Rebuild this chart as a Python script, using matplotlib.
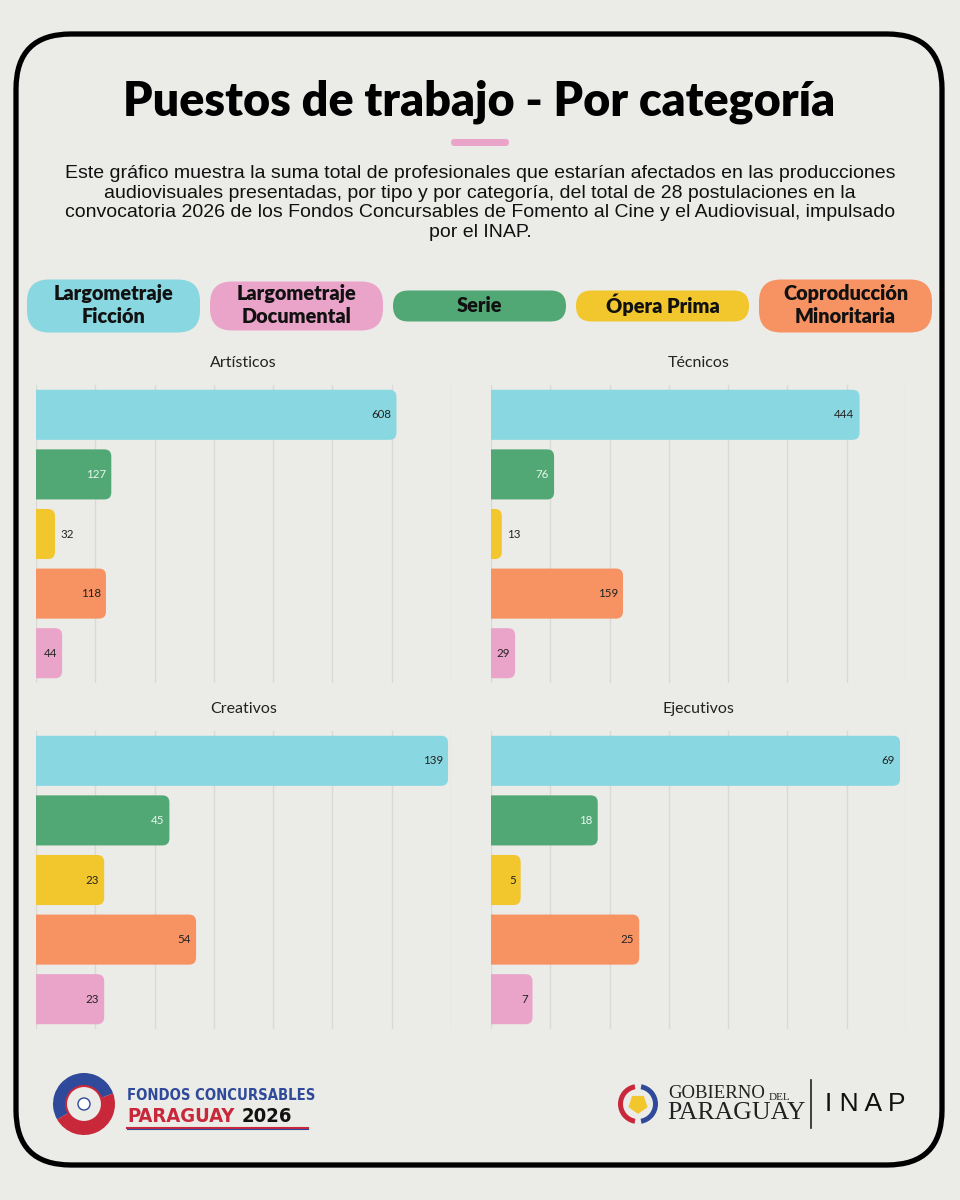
import numpy as np
import matplotlib.pyplot as plt
from matplotlib.patches import FancyBboxPatch, Circle, Wedge, RegularPolygon

# Data
panels = ['Artísticos', 'Técnicos', 'Creativos', 'Ejecutivos']
series = ['Largometraje Ficción', 'Serie', 'Ópera Prima', 'Coproducción Minoritaria',
          'Largometraje Documental']
artisticos = [608, 127, 32, 118, 44]
tecnicos = [444, 76, 13, 159, 29]
creativos = [139, 45, 23, 54, 23]
ejecutivos = [69, 18, 5, 25, 7]
axis_max = [700, 500, 140, 70]

legend_labels = ['Largometraje\nFicción', 'Largometraje\nDocumental', 'Serie',
                 'Ópera Prima', 'Coproducción\nMinoritaria']

colors = {'Largometraje Ficción': '#89d7e1', 'Largometraje Documental': '#eba4c9',
          'Serie': '#52a874', 'Ópera Prima': '#f2c72e',
          'Coproducción Minoritaria': '#f79263'}
legend_colors = [colors['Largometraje Ficción'], colors['Largometraje Documental'],
                 colors['Serie'], colors['Ópera Prima'], colors['Coproducción Minoritaria']]

BG = '#ebebe7'
W, H = 960, 1200

fig = plt.figure(figsize=(W / 100, H / 100), dpi=100, facecolor=BG)

# pixel-coordinate overlay for decorations
deco = fig.add_axes([0, 0, 1, 1], zorder=0)
deco.set_xlim(0, W)
deco.set_ylim(H, 0)
deco.axis('off')

# outer rounded frame
deco.add_patch(FancyBboxPatch((16, 34), 926, 1131,
                              boxstyle='round,pad=0,rounding_size=55',
                              fc='none', ec='black', lw=3.8))

deco.text(479, 102, 'Puestos de trabajo - Por categoría', ha='center', va='center',
          fontsize=33.6, fontweight='heavy', family='Lato', color='black')
deco.add_patch(FancyBboxPatch((451, 139), 58, 7, boxstyle='round,pad=0,rounding_size=3.5',
                              fc='#eba4c9', ec='none'))

desc = ('Este gráfico muestra la suma total de profesionales que estarían afectados en las producciones\n'
        'audiovisuales presentadas, por tipo y por categoría, del total de 28 postulaciones en la\n'
        'convocatoria 2026 de los Fondos Concursables de Fomento al Cine y el Audiovisual, impulsado\n'
        'por el INAP.')
deco.text(480, 203, desc, ha='center', va='center', fontsize=14.0,
          family='Liberation Sans', color='#111111', linespacing=1.2)

# legend pills
pill_x = [27, 210, 393, 576, 759]
pill_h = [53, 49, 31, 31, 53]
for x, h, lab, c in zip(pill_x, pill_h, legend_labels, legend_colors):
    deco.add_patch(FancyBboxPatch((x, 306 - h / 2), 173, h,
                                  boxstyle='round,pad=0,rounding_size=%g' % min(h / 2, 22),
                                  fc=c, ec='none'))
    deco.text(x + 86.5, 305, lab, ha='center', va='center', fontsize=14.3,
              fontweight='heavy', family='Lato', color='#111111', linespacing=1.3)

# chart panels (left, top, right, bottom in px)
rects = [(36, 385, 451, 683), (491, 385, 906, 683), (36, 731, 451, 1029), (491, 731, 906, 1029)]
values = [artisticos, tecnicos, creativos, ejecutivos]
bar_h = 0.84
for name, vals, xmax, (l, t, r, b) in zip(panels, values, axis_max, rects):
    ax = fig.add_axes([l / W, 1 - b / H, (r - l) / W, (b - t) / H], zorder=2)
    ax.set_facecolor('none')
    ax.set_xlim(0, xmax)
    ax.set_ylim(len(vals) - 0.5 + (1 - bar_h) / 2 - 0.08, -0.5 + (1 - bar_h) / 2 - 0.08)
    ylo, yhi = ax.get_ylim()
    for gx in np.linspace(0, xmax, 8):
        ax.axvline(gx, color='#dadad5', lw=1.0, zorder=0)
    xu = xmax / (r - l)
    yu = abs(ylo - yhi) / (b - t)
    rad = 7 * xu
    for i, (s, v) in enumerate(zip(series, vals)):
        ax.add_patch(FancyBboxPatch((-rad * 2, i - bar_h / 2), v + rad * 2, bar_h,
                                    boxstyle='round,pad=0,rounding_size=%g' % rad,
                                    mutation_aspect=yu / xu, fc=colors[s], ec='none',
                                    zorder=2))
        if v / xmax < 0.05:
            ax.text(v + 5 * xu, i, str(v), ha='left', va='center', fontsize=8.3,
                    family='Lato', color='#222222', zorder=3)
        else:
            tc = '#eaf6ee' if s == 'Serie' else '#222222'
            ax.text(v - 5 * xu, i, str(v), ha='right', va='center', fontsize=8.3,
                    family='Lato', color=tc, zorder=3)
    ax.axis('off')
    deco.text((l + r) / 2, t - 22, name, ha='center', va='center', fontsize=11.5,
              family='Lato', color='#222222')

# footer: Fondos Concursables logo (simplified)
cx, cy, cr = 84, 1104, 31
deco.add_patch(Wedge((cx, cy), cr, 150, 340, fc='#2f4a9a', ec='none'))
deco.add_patch(Wedge((cx, cy), cr, 340, 510, fc='#c8283a', ec='none'))
deco.add_patch(Circle((cx, cy), 18, fc=BG, ec='#c8283a', lw=1.5))
deco.add_patch(Circle((cx, cy), 6, fc='white', ec='#2f4a9a', lw=1))
narrow = ['DejaVu Sans', 'Roboto']
deco.text(127, 1096, 'FONDOS CONCURSABLES', ha='left', va='center', fontsize=10.6,
          fontweight='bold', family=narrow, fontstretch='condensed', color='#2f4a9a')
deco.text(127, 1117, 'PARAGUAY', ha='left', va='center', fontsize=14.5,
          fontweight='bold', family=narrow, fontstretch='condensed', color='#c8283a')
deco.text(242, 1117, '2026', ha='left', va='center', fontsize=14.5,
          fontweight='bold', family=narrow, fontstretch='condensed', color='#111111')
deco.plot([127, 308], [1127.5, 1127.5], color='#c8283a', lw=1.5)
deco.plot([127, 308], [1129, 1129], color='#2f4a9a', lw=0.8)

# footer: Gobierno del Paraguay / INAP
deco.add_patch(Wedge((638, 1104), 20, 100, 260, width=5, fc='#c8283a', ec='none'))
deco.add_patch(Wedge((638, 1104), 20, -80, 80, width=5, fc='#2f4a9a', ec='none'))
deco.add_patch(RegularPolygon((638, 1104), 5, radius=10, fc='#f2c72e', ec='none'))
deco.text(668, 1094, 'GOBIERNO', ha='left', va='center', fontsize=13.5,
          family='Liberation Serif', color='#222222')
deco.text(769, 1097, 'DEL', ha='left', va='center', fontsize=8,
          family='Liberation Serif', color='#222222')
deco.text(667, 1113, 'PARAGUAY', ha='left', va='center', fontsize=18.5,
          family='Liberation Serif', color='#222222')
deco.plot([811, 811], [1080, 1128], color='#222222', lw=1.2)
deco.text(825, 1104, 'I N A P', ha='left', va='center', fontsize=19,
          family='Liberation Sans', color='#111111')

plt.savefig('out.png', dpi=100, facecolor=BG)
